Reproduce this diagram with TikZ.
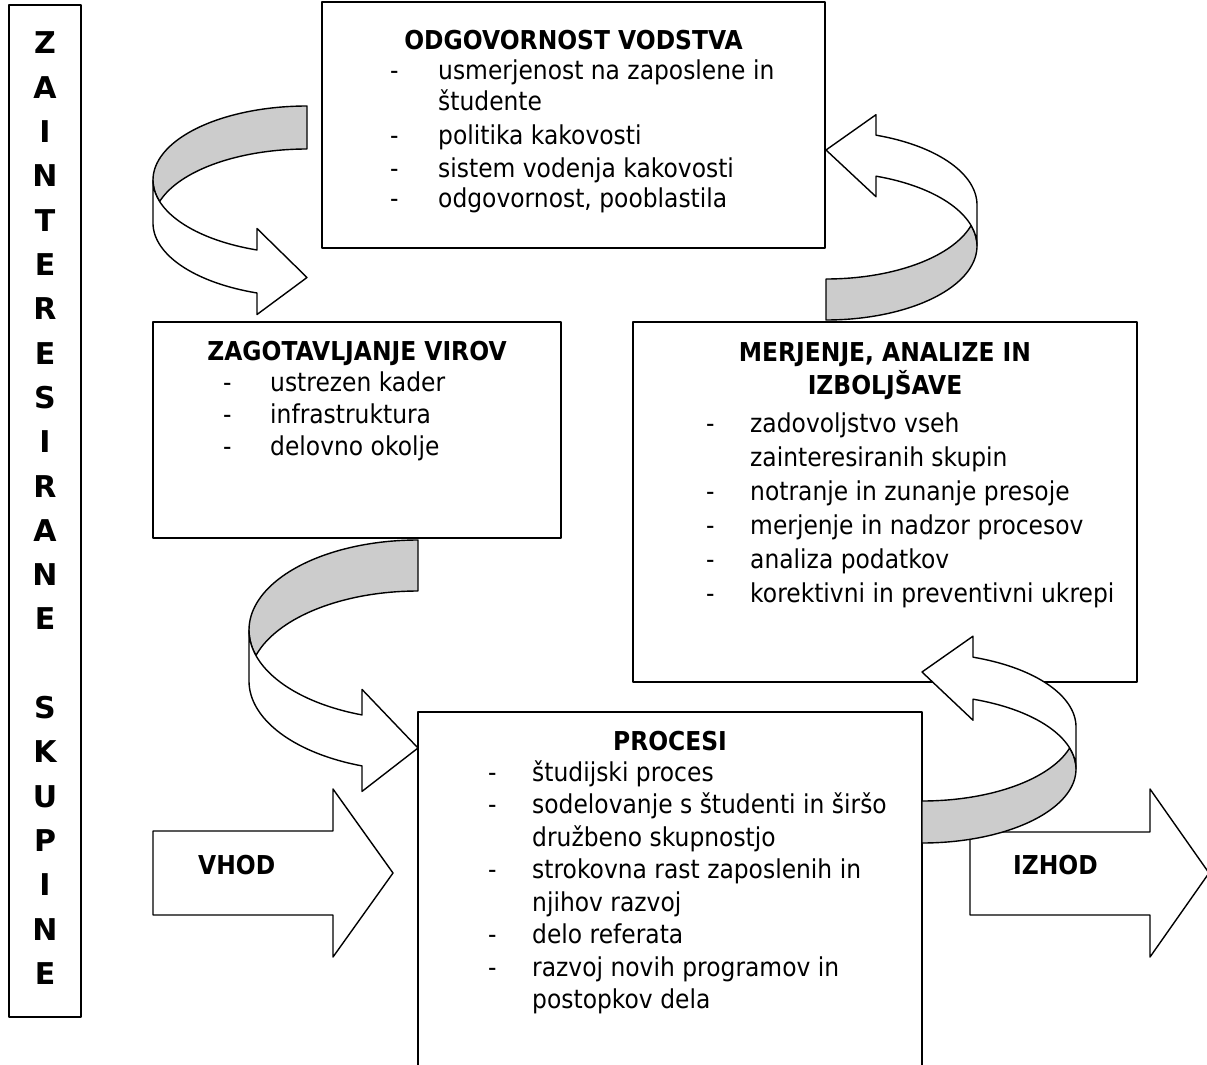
\documentclass[tikz,border=0pt]{standalone}
\usepackage{fontspec}
\setmainfont{DejaVu Sans}[FakeStretch=0.9]
\newfontfamily\colfont{DejaVu Sans}
\definecolor{bandgray}{RGB}{204,204,204}
\begin{document}
\begin{tikzpicture}[x=1pt,y=-1pt, line join=round,
  box/.style={draw, fill=white, inner sep=0pt, line width=1.6pt},
  txt/.style={anchor=base west, inner sep=0pt, font=\fontsize{26}{32}\selectfont},
  ttl/.style={anchor=base, inner sep=0pt, font=\fontsize{26}{32}\selectfont\bfseries},
  ttlw/.style={anchor=base west, inner sep=0pt, font=\fontsize{26}{32}\selectfont\bfseries},
  col/.style={anchor=base, inner sep=0pt, font=\colfont\fontsize{30}{36}\selectfont\bfseries},
  band/.style={draw, fill=bandgray, line width=1.4pt},
  front/.style={draw, fill=white, line width=1.4pt}]
\fill[white] (0,0) rectangle (1207,1065);
\useasboundingbox (0,0) rectangle (1207,1065);

% boxes
\node[box, minimum width=72pt, minimum height=1012pt] (stake) at (45,511) {};
\node[box, minimum width=503pt, minimum height=246pt] (odg) at (573.5,125) {};
\node[box, minimum width=408pt, minimum height=216pt] (zag) at (357,430) {};
\node[box, minimum width=504pt, minimum height=360pt] (mer) at (885,502) {};
\node[box, minimum width=504pt, minimum height=380pt] (proc) at (670,902) {};

% left column
\foreach \l [count=\i from 0] in {Z,A,I,N,T,E,R,E,S,I,R,A,N,E}
  \node[col] (za\i) at (45,{54+44.3*\i}) {\l};
\foreach \l [count=\i from 0] in {S,K,U,P,I,N,E}
  \node[col] (sk\i) at (45,{54+44.3*(\i+15)}) {\l};

% top box text
\node[ttl] (odgT) at (573.5,50) {ODGOVORNOST VODSTVA};
\node[txt] (odgD1) at (390,80) {-};
\node[txt] (odg1) at (438,80) {usmerjenost na zaposlene in};
\node[txt] (odg1b) at (438,110) {študente};
\node[txt] (odgD2) at (390,144) {-};
\node[txt] (odg2) at (438,144) {politika kakovosti};
\node[txt] (odgD3) at (390,177) {-};
\node[txt] (odg3) at (438,177) {sistem vodenja kakovosti};
\node[txt] (odgD4) at (390,207) {-};
\node[txt] (odg4) at (438,207) {odgovornost, pooblastila};

% zagotavljanje
\node[ttl] (zagT) at (357,360) {ZAGOTAVLJANJE VIROV};
\node[txt] (zagD1) at (223,391) {-};
\node[txt] (zag1) at (270,391) {ustrezen kader};
\node[txt] (zagD2) at (223,423) {-};
\node[txt] (zag2) at (270,423) {infrastruktura};
\node[txt] (zagD3) at (223,455) {-};
\node[txt] (zag3) at (270,455) {delovno okolje};

% merjenje
\node[ttl] (merT1) at (885,361.5) {MERJENJE, ANALIZE IN};
\node[ttl] (merT2) at (885,394.5) {IZBOLJŠAVE};
\node[txt] (merD1) at (706,432) {-};
\node[txt] (mer1) at (750,432) {zadovoljstvo vseh};
\node[txt] (mer1b) at (750,466) {zainteresiranih skupin};
\node[txt] (merD2) at (706,500) {-};
\node[txt] (mer2) at (750,500) {notranje in zunanje presoje};
\node[txt] (merD3) at (706,534) {-};
\node[txt] (mer3) at (750,534) {merjenje in nadzor procesov};
\node[txt] (merD4) at (706,568) {-};
\node[txt] (mer4) at (750,568) {analiza podatkov};
\node[txt] (merD5) at (706,602) {-};
\node[txt] (mer5) at (750,602) {korektivni in preventivni ukrepi};

% procesi
\node[ttl] (procT) at (670,750.5) {PROCESI};
\node[txt] (procD1) at (488,781) {-};
\node[txt] (proc1) at (532,781) {študijski proces};
\node[txt] (procD2) at (488,813.5) {-};
\node[txt] (proc2) at (532,813.5) {sodelovanje s študenti in širšo};
\node[txt] (proc2b) at (532,846) {družbeno skupnostjo};
\node[txt] (procD3) at (488,878.5) {-};
\node[txt] (proc3) at (532,878.5) {strokovna rast zaposlenih in};
\node[txt] (proc3b) at (532,911) {njihov razvoj};
\node[txt] (procD4) at (488,943.5) {-};
\node[txt] (proc4) at (532,943.5) {delo referata};
\node[txt] (procD5) at (488,976) {-};
\node[txt] (proc5) at (532,976) {razvoj novih programov in};
\node[txt] (proc5b) at (532,1008.5) {postopkov dela};

% VHOD / IZHOD block arrows
\draw[front] (153,831) -- (333,831) -- (333,789) -- (393,873) -- (333,957) -- (333,915) -- (153,915) -- cycle;
\node[ttlw] (vhodT) at (198,874.5) {VHOD};
\draw[front] (970,832) -- (1150,832) -- (1150,789) -- (1209,873) -- (1150,957) -- (1150,915) -- (970,915) -- cycle;
\node[ttlw] (izhodT) at (1013,874.5) {IZHOD};

% A1: top box -> zagotavljanje
\draw[band] plot[domain=270:180, samples=50] ({307+154*cos(\x)},{180+74*sin(\x)})
  -- plot[domain=180:163.11, samples=10] ({307+154*cos(\x)},{180+74*sin(\x)})
  -- plot[domain=196.89:270, samples=40] ({307+154*cos(\x)},{223+74*sin(\x)}) -- cycle;
\draw[front] (153,180)
  -- plot[domain=180:108.95, samples=50] ({307+154*cos(\x)},{223+74*sin(\x)})
  -- (257,314.5) -- (307,277.5) -- (257,228.5)
  -- plot[domain=108.95:180, samples=50] ({307+154*cos(\x)},{180+74*sin(\x)}) -- cycle;

% A3: zagotavljanje -> procesi
\draw[band] plot[domain=270:180, samples=50] ({418+169*cos(\x)},{630+90*sin(\x)})
  -- plot[domain=180:163.54, samples=10] ({418+169*cos(\x)},{630+90*sin(\x)})
  -- plot[domain=196.46:270, samples=40] ({418+169*cos(\x)},{681+90*sin(\x)}) -- cycle;
\draw[front] (249,630)
  -- plot[domain=180:109.35, samples=50] ({418+169*cos(\x)},{681+90*sin(\x)})
  -- (362,791.4) -- (418,748) -- (362,689.4)
  -- plot[domain=109.35:180, samples=50] ({418+169*cos(\x)},{630+90*sin(\x)}) -- cycle;

% A2: merjenje -> top box
\draw[band] plot[domain=90:0, samples=50] ({826+151*cos(\x)},{246+74*sin(\x)})
  -- plot[domain=0:-16.08, samples=10] ({826+151*cos(\x)},{246+74*sin(\x)})
  -- plot[domain=16.08:90, samples=40] ({826+151*cos(\x)},{205+74*sin(\x)}) -- cycle;
\draw[front] (977,246)
  -- plot[domain=0:-70.66, samples=50] ({826+151*cos(\x)},{205+74*sin(\x)})
  -- (876,114.7) -- (826,150) -- (876,196.7)
  -- plot[domain=-70.66:0, samples=50] ({826+151*cos(\x)},{246+74*sin(\x)}) -- cycle;

% A4: procesi -> merjenje
\draw[band] plot[domain=90:0, samples=50] ({922+154*cos(\x)},{769+74*sin(\x)})
  -- plot[domain=0:-16.49, samples=10] ({922+154*cos(\x)},{769+74*sin(\x)})
  -- plot[domain=16.49:90, samples=40] ({922+154*cos(\x)},{727+74*sin(\x)}) -- cycle;
\draw[front] (1076,769)
  -- plot[domain=0:-70.66, samples=50] ({922+154*cos(\x)},{727+74*sin(\x)})
  -- (973,636.2) -- (922,672) -- (973,720.2)
  -- plot[domain=-70.66:0, samples=50] ({922+154*cos(\x)},{769+74*sin(\x)}) -- cycle;
\end{tikzpicture}
\end{document}
